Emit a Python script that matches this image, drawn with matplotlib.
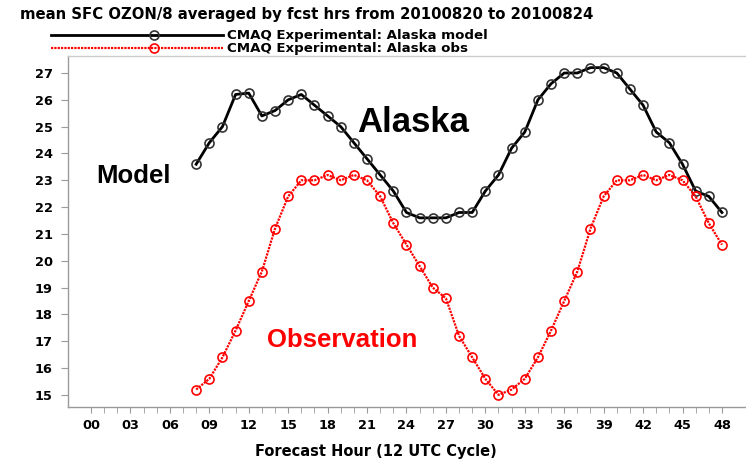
import matplotlib
matplotlib.use("Agg")
import matplotlib.pyplot as plt
from matplotlib.lines import Line2D
import numpy as np

# Forecast hours and hourly mean surface ozone
hours = list(range(8, 49))
model = [23.6, 24.4, 25.0, 26.2, 26.25, 25.4, 25.6, 26.0, 26.2, 25.8,
         25.4, 25.0, 24.4, 23.8, 23.2, 22.6, 21.8, 21.6, 21.6, 21.6,
         21.8, 21.8, 22.6, 23.2, 24.2, 24.8, 26.0, 26.6, 27.0, 27.0,
         27.2, 27.2, 27.0, 26.4, 25.8, 24.8, 24.4, 23.6, 22.6, 22.4,
         21.8]
obs = [15.2, 15.6, 16.4, 17.4, 18.5, 19.6, 21.2, 22.4, 23.0, 23.0,
       23.2, 23.0, 23.2, 23.0, 22.4, 21.4, 20.6, 19.8, 19.0, 18.6,
       17.2, 16.4, 15.6, 15.0, 15.2, 15.6, 16.4, 17.4, 18.5, 19.6,
       21.2, 22.4, 23.0, 23.0, 23.2, 23.0, 23.2, 23.0, 22.4, 21.4,
       20.6]

xticks = list(range(0, 49, 3))
xticklabels = [f"{h:02d}" for h in xticks]
yticks = list(range(15, 28))

title = "mean SFC OZON/8 averaged by fcst hrs from 20100820 to 20100824"
model_label = "CMAQ Experimental: Alaska model"
obs_label = "CMAQ Experimental: Alaska obs"

W, H = 746, 461
fig = plt.figure(figsize=(W / 100, H / 100), dpi=100)
fig.patch.set_facecolor("white")

ax = fig.add_axes([68 / W, 1 - 406.7 / H, (W - 68) / W, (406.7 - 55.7) / H])
ax.set_xlim(-1.75, 49.83)
ax.set_ylim(14.56, 27.645)

small = dict(family="DejaVu Sans", weight="bold")
big = dict(family="Liberation Sans", weight="bold")

model_style = dict(color="black", lw=2.0, marker="o", markersize=6.5,
                   markerfacecolor="none", markeredgecolor="#333333",
                   markeredgewidth=1.2)
obs_style = dict(color="red", lw=1.6, ls=(0, (1, 0.5)), marker="o",
                 markersize=6.5, markerfacecolor="none",
                 markeredgecolor="red", markeredgewidth=1.2)

ax.plot(hours, model, **model_style, zorder=3)
ax.plot(hours, obs, **obs_style, zorder=3)

# Axes styling
for side in ("left", "bottom", "top"):
    ax.spines[side].set_color("#9a9a9a")
    ax.spines[side].set_linewidth(1.0)
ax.spines["top"].set_color("#cccccc")
ax.spines["right"].set_visible(False)

ax.set_xticks(xticks)
ax.set_xticklabels(xticklabels, fontsize=9.3, **small)
ax.set_xticks(range(0, 49), minor=True)
ax.set_yticks(yticks)
ax.set_yticklabels([str(v) for v in yticks], fontsize=9.3, **small)
ax.tick_params(axis="x", which="both", direction="out", length=4,
               color="#9a9a9a", pad=5)
ax.tick_params(axis="y", direction="out", length=5, color="#9a9a9a", pad=6)

ax.set_xlabel("Forecast Hour (12 UTC Cycle)", fontsize=10.5, **small)
ax.xaxis.set_label_coords((376 - 68) / (W - 68), -(451 - 406.7) / (406.7 - 55.7))
ax.xaxis.label.set_va("center")

# Panel annotations
ax.text(24.5, 24.8, "Alaska", fontsize=25, ha="center", va="baseline",
        color="black", **big)
ax.text(0.38, 22.89, "Model", fontsize=18.5, ha="left", va="baseline",
        color="black", **big)
ax.text(13.37, 16.78, "Observation", fontsize=18.5, ha="left",
        va="baseline", color="red", **big)

# Title and key
fig.text(20 / W, 1 - 15 / H, title, fontsize=10.7, ha="left", va="center",
         **small)

for y_px, style, label in ((35.3, model_style, model_label),
                           (48.3, obs_style, obs_label)):
    yf = 1 - y_px / H
    line_kw = {k: v for k, v in style.items() if not k.startswith("marker")}
    fig.add_artist(Line2D([51 / W, 223 / W], [yf, yf],
                          transform=fig.transFigure, **line_kw))
    mk = {k: v for k, v in style.items() if k.startswith("marker")}
    fig.add_artist(Line2D([154 / W], [yf], transform=fig.transFigure,
                          ls="none", **mk))
    fig.text(227 / W, yf, label, fontsize=9.6, ha="left", va="center",
             **small)

fig.savefig("out.png", dpi=100, facecolor="white")
